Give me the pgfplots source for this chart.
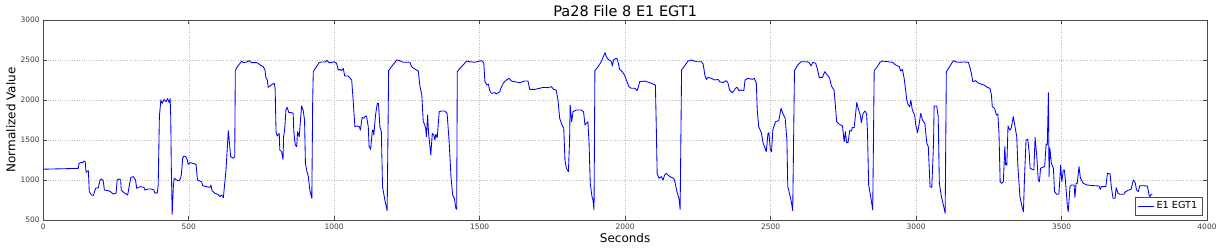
\documentclass[border=0pt]{standalone}
\usepackage{fontspec}
\setmainfont{DejaVu Sans}
\usepackage{pgfplots}
\pgfplotsset{compat=1.18}
\pgfplotstableread{
x y
0 1135
60 1140
120 1145
123 1208
130 1220
135 1215
140 1237
144 1230
147 1096
155 1117
158 854
166 812
172 808
180 896
189 904
195 1000
200 1013
206 990
210 875
223 867
231 854
240 825
250 833
254 1000
260 1013
266 1000
268 875
277 842
290 812
296 937
301 1033
309 1042
317 1000
321 896
332 917
346 908
349 875
361 887
372 887
380 875
384 833
392 842
395 937
399 1792
404 2000
409 1958
415 2008
422 1979
427 2017
433 1967
436 2017
438 1792
440 1167
443 571
447 917
450 1021
458 1000
466 987
472 1021
475 1083
479 1271
483 1300
490 1292
495 1250
498 1196
504 1217
515 1208
525 1196
530 1000
538 987
544 979
548 929
561 917
573 908
576 937
580 867
590 833
601 821
607 792
613 812
619 779
622 896
628 1125
636 1617
641 1417
644 1292
653 1271
658 1292
660 2367
667 2417
676 2458
682 2487
687 2467
699 2475
708 2492
716 2467
733 2467
742 2450
747 2433
756 2417
762 2375
765 2283
770 2250
773 2158
779 2175
788 2200
794 2208
797 2133
800 1604
804 1550
811 1583
813 1375
819 1354
824 1258
826 1542
830 1646
834 1875
838 1908
844 1842
853 1842
859 1833
861 1604
866 1437
871 1417
874 1604
880 1542
884 1750
888 1925
893 1875
898 1750
901 1208
905 1125
911 1042
916 875
923 771
926 2000
928 2354
939 2417
948 2467
956 2475
968 2475
974 2496
983 2467
991 2467
999 2479
1008 2458
1014 2375
1019 2383
1025 2367
1031 2396
1036 2300
1048 2300
1060 2250
1065 2000
1071 1667
1077 1675
1086 1667
1090 1625
1096 1783
1102 1771
1108 1800
1111 1800
1117 1667
1120 1417
1125 1383
1131 1617
1134 1625
1136 1562
1142 1812
1148 1958
1152 1958
1157 1667
1162 1604
1166 917
1174 750
1182 617
1187 2367
1197 2417
1208 2467
1214 2500
1225 2492
1237 2471
1260 2471
1266 2417
1277 2387
1289 2362
1294 2187
1301 2062
1306 1729
1309 1708
1314 1654
1317 1542
1321 1812
1324 1604
1329 1417
1332 1312
1337 1583
1342 1562
1346 1500
1349 1571
1354 1529
1361 1854
1369 1862
1380 1862
1388 1833
1395 1479
1401 1062
1407 812
1413 771
1418 646
1421 633
1423 2354
1432 2396
1443 2437
1455 2487
1466 2479
1483 2471
1500 2487
1506 2492
1514 2467
1518 2229
1525 2187
1530 2200
1534 2125
1540 2083
1552 2092
1557 2075
1569 2104
1574 2158
1582 2217
1592 2250
1601 2271
1609 2237
1620 2229
1637 2217
1655 2237
1666 2237
1672 2133
1689 2133
1706 2146
1718 2158
1735 2154
1746 2167
1754 2133
1763 2125
1769 2000
1775 1771
1783 1687
1789 1646
1793 1250
1798 1146
1805 1104
1809 1500
1811 1937
1816 1729
1821 1854
1832 1875
1849 1875
1857 1854
1862 1687
1869 1717
1872 1729
1876 1458
1880 958
1886 792
1889 758
1893 625
1896 2367
1907 2417
1918 2479
1924 2533
1931 2592
1935 2542
1944 2500
1952 2487
1956 2425
1960 2500
1967 2517
1972 2517
1976 2467
1981 2383
1990 2354
1998 2312
2004 2250
2013 2167
2021 2146
2033 2146
2041 2117
2045 2158
2050 2229
2067 2237
2084 2217
2099 2196
2104 2187
2107 1667
2110 1083
2116 1021
2124 1042
2130 1000
2136 1062
2141 1083
2151 1050
2159 1033
2167 1021
2171 979
2178 854
2185 771
2189 633
2194 2375
2204 2425
2216 2487
2227 2500
2245 2479
2262 2479
2268 2450
2274 2312
2279 2258
2285 2283
2296 2271
2308 2250
2319 2258
2325 2229
2337 2217
2346 2242
2353 2217
2359 2125
2368 2092
2374 2117
2379 2146
2385 2158
2391 2117
2399 2125
2408 2117
2412 2250
2422 2271
2437 2258
2444 2271
2451 2208
2454 1875
2459 1667
2468 1592
2474 1467
2479 1417
2485 1354
2491 1583
2494 1592
2499 1375
2503 1354
2508 1633
2517 1729
2528 1742
2536 1896
2542 1833
2550 1771
2556 1500
2559 917
2565 833
2571 729
2576 617
2582 2367
2593 2437
2605 2479
2616 2479
2631 2475
2639 2425
2645 2471
2655 2458
2661 2383
2667 2283
2678 2283
2686 2354
2695 2312
2703 2271
2709 2175
2718 2125
2722 1958
2727 1729
2735 1700
2747 1675
2753 1479
2757 1604
2761 1467
2766 1467
2772 1617
2778 1612
2781 1658
2787 1654
2790 1750
2796 1967
2801 1896
2808 1812
2812 1717
2818 1833
2825 1862
2830 1825
2833 1604
2837 937
2844 792
2851 625
2856 2367
2867 2417
2876 2471
2884 2487
2901 2479
2919 2471
2930 2437
2942 2417
2947 2362
2953 2383
2959 2271
2964 2125
2968 2000
2973 1937
2978 1917
2982 2000
2987 1875
2995 1812
2999 1687
3005 1592
3010 1687
3016 1833
3022 1750
3030 1708
3037 1458
3042 1417
3048 917
3054 908
3060 1458
3062 1925
3071 1925
3076 1792
3080 958
3087 792
3094 687
3100 583
3104 2354
3113 2404
3121 2450
3128 2492
3142 2471
3165 2475
3180 2471
3186 2396
3190 2333
3195 2229
3205 2242
3211 2217
3222 2200
3234 2187
3245 2158
3254 2146
3259 2062
3262 1917
3270 1896
3276 1812
3281 1825
3285 1583
3289 979
3294 958
3300 979
3305 1417
3308 1187
3312 1187
3316 1675
3322 1625
3327 1646
3334 1792
3339 1687
3346 1542
3350 1167
3357 792
3364 667
3369 604
3373 1062
3378 1500
3384 1508
3389 1333
3392 1146
3400 1133
3405 1125
3409 1533
3415 1292
3420 1000
3424 979
3428 1146
3434 1158
3442 1167
3447 1450
3451 1437
3455 2092
3457 1042
3460 1396
3465 1208
3472 1146
3476 854
3483 821
3491 825
3497 1187
3501 979
3506 1125
3510 1125
3515 917
3520 667
3523 604
3529 917
3534 937
3543 937
3546 783
3550 958
3554 958
3560 1167
3565 1021
3575 958
3588 937
3612 929
3629 925
3633 883
3637 917
3652 917
3658 1083
3667 1075
3671 917
3677 771
3684 771
3688 904
3694 833
3701 821
3714 821
3720 854
3731 875
3739 883
3747 1000
3753 967
3758 875
3764 854
3769 929
3778 929
3795 925
3801 812
3804 792
3808 821
3812 821
}\egtdata
\begin{document}
\begin{tikzpicture}
\useasboundingbox (-43.3pt,-31pt) rectangle (1177.7pt,220pt);
\begin{axis}[
  scale only axis, width=1163.7pt, height=200pt,
  xmin=0, xmax=4000, ymin=500, ymax=3000,
  xtick={0,500,...,4000}, ytick={500,1000,...,3000},
  grid=major, grid style={dotted, black!25, line width=0.5pt},
  axis line style={black!70, line width=0.8pt},
  tick align=inside, tick pos=both, major tick length=4pt,
  tick style={black!70, line width=0.6pt},
  ticklabel style={font=\fontsize{7.5}{9}\selectfont, text=black!75},
  /pgf/number format/assume math mode=true,
  /pgf/number format/1000 sep={},
  every axis title shift=0pt,
  title={Pa28 File 8 E1 EGT1},
  title style={at={(axis description cs:0.5,1.015)}, anchor=base, yshift=0pt, font=\fontsize{14.5}{17}\selectfont},
  xlabel={Seconds},
  xlabel style={at={(axis description cs:0.5,-0.115)}, anchor=base, font=\fontsize{12}{14}\selectfont},
  ylabel={Normalized Value},
  ylabel style={at={(axis description cs:-0.0241,0.5)}, anchor=base, rotate=0, font=\fontsize{12}{14}\selectfont},
  legend style={at={(axis description cs:0.9957,0.025)}, anchor=south east, draw=black!70, font=\fontsize{9.7}{11}\selectfont, inner sep=2.5pt},
  legend cell align=left,
  legend image code/.code={\draw[#1] (0pt,0pt) -- (16pt,0pt);},
]
\addplot[color=blue, line width=0.85pt, line join=round] table[x=x, y=y] {\egtdata};
\addlegendentry{E1 EGT1}
\end{axis}
\end{tikzpicture}
\end{document}
